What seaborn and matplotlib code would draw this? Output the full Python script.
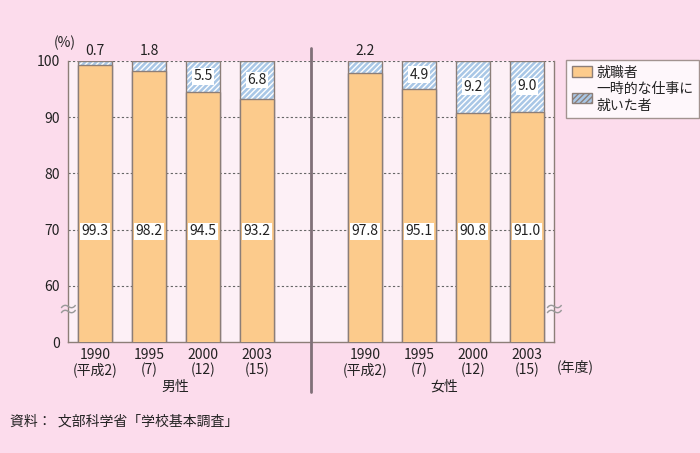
import matplotlib
matplotlib.use("Agg")
import matplotlib.pyplot as plt
import matplotlib.patches as mpatches
from matplotlib.lines import Line2D
import seaborn as sns
import pandas as pd

years = ["1990\n(平成2)", "1995\n(7)", "2000\n(12)", "2003\n(15)"]
male_employed = [99.3, 98.2, 94.5, 93.2]
male_temp = [0.7, 1.8, 5.5, 6.8]
female_employed = [97.8, 95.1, 90.8, 91.0]
female_temp = [2.2, 4.9, 9.2, 9.0]
yticks_vals = [50, 60, 70, 80, 90, 100]
yticks_labels = ["0", "60", "70", "80", "90", "100"]

sns.set_theme(style="white")
plt.rcParams['font.family'] = ['Noto Sans CJK JP', 'DejaVu Sans']
plt.rcParams['hatch.color'] = 'white'
plt.rcParams['hatch.linewidth'] = 1.0

FIG_BG = "#fcdcec"
AX_BG = "#fdf0f6"
ORANGE = "#fccb8c"
BLUE = "#a9c7e6"
EDGE = "#8c7e78"
TXT = "#222222"
FS = 10

keys = [f"M{i}" for i in range(4)] + ["gap"] + [f"F{i}" for i in range(4)]
rows = []
for i in range(4):
    rows.append(dict(key=f"M{i}", emp=male_employed[i], tmp=male_temp[i]))
for i in range(4):
    rows.append(dict(key=f"F{i}", emp=female_employed[i], tmp=female_temp[i]))
df = pd.DataFrame(rows)
df["total"] = df["emp"] + df["tmp"]

fig = plt.figure(figsize=(7, 4.53), dpi=100, facecolor=FIG_BG)
ax = fig.add_axes([68/700, 1-342/453, (554-68)/700, (342-61)/453])
ax.set_facecolor(AX_BG)

# grid
for v in [60, 70, 80, 90, 100]:
    ax.axhline(v, color="#666666", lw=0.8, ls=(0, (2, 2)), zorder=0.5)

sns.barplot(data=df, x="key", y="total", order=keys, color=BLUE, width=0.64,
            saturation=1, edgecolor="white", linewidth=0, hatch="//////", ax=ax, zorder=2)
sns.barplot(data=df, x="key", y="total", order=keys, fill=False, width=0.64,
            edgecolor=EDGE, linewidth=1.0, ax=ax, zorder=3)
sns.barplot(data=df, x="key", y="emp", order=keys, color=ORANGE, width=0.64,
            saturation=1, edgecolor=EDGE, linewidth=1.0, ax=ax, zorder=4)

ax.set_ylim(50, 100)
ax.set_xlim(-0.5, 8.5)
ax.set_yticks(yticks_vals)
ax.set_yticklabels(yticks_labels)
ax.set_xticks(range(9))
ax.set_xticklabels(years + [""] + years)
ax.set_xlabel("")
ax.set_ylabel("")
ax.tick_params(axis="both", length=0, labelsize=FS, colors=TXT)
ax.tick_params(axis="x", pad=4)
ax.tick_params(axis="y", pad=6)
for lab in ax.get_xticklabels():
    lab.set_linespacing(1.1)
ax.set_xticks([0.5 + i for i in range(8)], minor=True)
ax.tick_params(axis="x", which="minor", direction="in", length=4, color=EDGE, width=1)

for s in ["left", "bottom", "right"]:
    ax.spines[s].set_color(EDGE)
    ax.spines[s].set_linewidth(1.0)
ax.spines["top"].set_visible(False)

# value labels
bbox = dict(facecolor="white", edgecolor="none", pad=1.0)
for pos, (_, r) in zip([0, 1, 2, 3, 5, 6, 7, 8], df.iterrows()):
    ax.text(pos, 69.7, f"{r['emp']:.1f}", ha="center", va="center", fontsize=FS,
            color=TXT, bbox=bbox, zorder=6)
    if r["tmp"] < 3:
        ax.text(pos, 101.7, f"{r['tmp']:.1f}", ha="center", va="center", fontsize=FS,
                color=TXT, clip_on=False, zorder=6)
    else:
        ax.text(pos, r["emp"] + r["tmp"] / 2, f"{r['tmp']:.1f}", ha="center", va="center",
                fontsize=FS, color=TXT, bbox=bbox, zorder=6)

# divider
ax.add_line(Line2D([4, 4], [1.046, -0.178], transform=ax.get_xaxis_transform(),
                   color="#807078", lw=2, clip_on=False, zorder=5))

# break marks
for xf in [0.0, 1.0]:
    ax.text(xf, 55.6, "≈", transform=ax.get_yaxis_transform(), ha="center", va="center",
            fontsize=15, color="#999999", clip_on=False, zorder=6)

fig.text(65/700, 1-43/453, "(%)", ha="center", va="center", fontsize=FS, color=TXT)
fig.text(175/700, 1-387/453, "男性", ha="center", va="center", fontsize=FS, color=TXT)
fig.text(444/700, 1-387/453, "女性", ha="center", va="center", fontsize=FS, color=TXT)
fig.text(575/700, 1-367/453, "(年度)", ha="center", va="center", fontsize=FS, color=TXT)
fig.text(10/700, 1-422/453, "資料：  文部科学省「学校基本調査」", ha="left", va="center",
         fontsize=FS, color=TXT)

handles = [mpatches.Patch(facecolor=ORANGE, edgecolor=EDGE, label="就職者"),
           mpatches.Patch(facecolor=BLUE, edgecolor=EDGE, hatch="//////",
                          label="一時的な仕事に\n就いた者")]
leg = fig.legend(handles=handles, loc="upper left", bbox_to_anchor=(566/700, 1-60/453),
                 borderaxespad=0, frameon=True, fancybox=False, fontsize=FS,
                 handlelength=1.5, handleheight=0.8, handletextpad=0.3, borderpad=0.4,
                 labelspacing=0.2)
leg.get_frame().set_edgecolor(EDGE)
leg.get_frame().set_facecolor("white")
leg.get_frame().set_linewidth(1.0)
for t in leg.get_texts():
    t.set_color(TXT)

fig.savefig("out.png", dpi=100, facecolor=FIG_BG)
